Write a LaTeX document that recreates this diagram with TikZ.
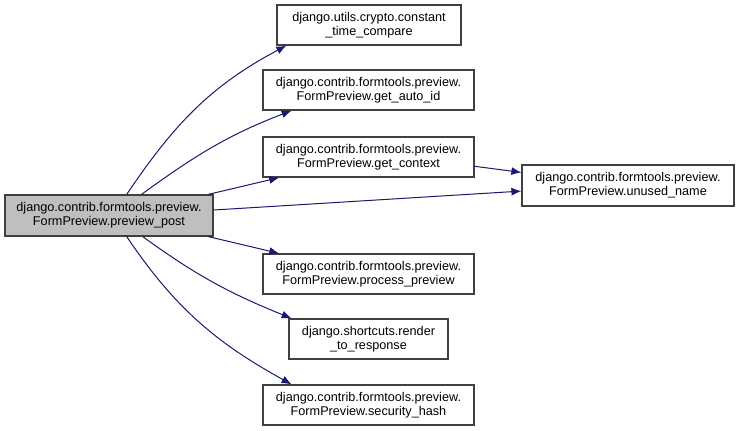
\documentclass[tikz,border=0pt]{standalone}
\usepackage{fontspec}
\setmainfont{Liberation Sans}
\usetikzlibrary{arrows.meta}
\definecolor{edgeblue}{HTML}{191970}
\definecolor{boxline}{HTML}{404040}

\begin{document}
\begin{tikzpicture}[x=0.75pt, y=-0.75pt,
    box/.style={draw=boxline, line width=0.9pt, fill=white, align=center, inner sep=0pt, minimum height=30pt, font=\fontsize{9.5}{10.6}\selectfont},
    edge/.style={draw=edgeblue, line width=0.75pt, -{Latex[length=7.5pt, width=6pt]}}]
    \useasboundingbox (0,0) rectangle (739,431);
    \node[box, fill=black!25, minimum width=156pt, minimum height=30.75pt] (main) at (109,215.5) {django.contrib.formtools.preview.\\FormPreview.preview\_post};
    \node[box, minimum width=138pt] (cmp) at (369,25) {django.utils.crypto.constant\\\_time\_compare};
    \node[box, minimum width=158.25pt] (autoid) at (368.5,90) {django.contrib.formtools.preview.\\FormPreview.get\_auto\_id};
    \node[box, minimum width=158.25pt] (ctx) at (368.5,157) {django.contrib.formtools.preview.\\FormPreview.get\_context};
    \node[box, minimum width=159pt, minimum height=30.75pt] (unused) at (628,185.5) {django.contrib.formtools.preview.\\FormPreview.unused\_name};
    \node[box, minimum width=158.25pt] (proc) at (368.5,274) {django.contrib.formtools.preview.\\FormPreview.process\_preview};
    \node[box, minimum width=119.25pt] (render) at (368.5,339) {django.shortcuts.render\\\_to\_response};
    \node[box, minimum width=158.25pt] (hash) at (368.5,405) {django.contrib.formtools.preview.\\FormPreview.security\_hash};
    % calls from preview_post
    \draw[edge] (main.50) to[out=56, in=208] (cmp.194);
    \draw[edge] (main.33) to[out=36, in=201] (autoid.195);
    \draw[edge] (main.12.7) -- (ctx.193);
    \draw[edge] (main.3.6) -- (unused.183.5);
    \draw[edge] (main.-12.7) -- (proc.167.3);
    \draw[edge] (main.-32.6) to[out=-36, in=158] (render.165.2);
    \draw[edge] (main.-50.3) to[out=-56, in=151] (hash.165.7);
    % get_context
    \draw[edge] (ctx.-5.9) -- (unused.173.8);
\end{tikzpicture}
\end{document}
